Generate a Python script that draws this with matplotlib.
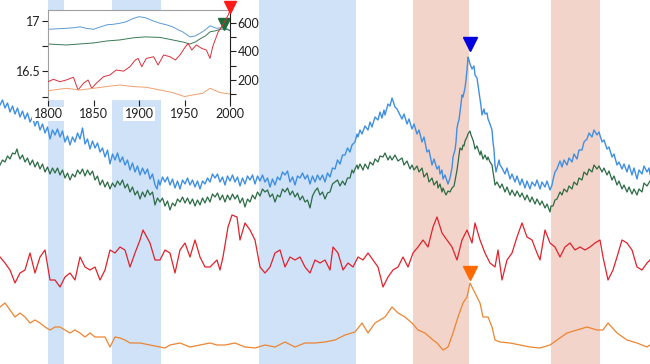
import matplotlib
matplotlib.use("Agg")
import matplotlib.pyplot as plt
from matplotlib.ticker import FixedLocator

plt.rcParams['font.family'] = ['Lato', 'DejaVu Sans']

# ---------------- main panel data: (time index, level); level axis points down -------------
blue_pts = [(0,105),(2.5,100),(5,108),(7.5,103),(10,112),(12.5,106),(15,114),(17.5,108),(20,117),(22.5,111),
 (25,119),(27.5,113),(30,122),(32.5,117),(35,126),(37.5,120),(40,130),(42.5,124),(45,133),(47.5,127),
 (50,139),(52.5,130),(55,135),(57.5,129),(60,137),(62.5,131),(65,142),(67.5,136),(70,145),(72.5,137),
 (75,142),(77.5,133),(80,139),(82.5,128),(85,144),(87.5,139),(90,149),(92.5,141),(95,148),(97.5,143),
 (100,152),(102.5,148),(105,157),(107.5,150),(110,164),(112.5,154),(115,160),(117.5,153),(120,162),(122.5,157),
 (125,165),(127.5,160),(130,170),(132.5,163),(135,172),(137.5,166),(140,175),(142.5,168),(145,174),(147.5,169),
 (150,179),(152.5,174),(155,185),(157,189),(158.5,180),(160,185),(162.5,177),(165,182),(167.5,177),(170,185),
 (172.5,179),(175,188),(177.5,181),(180,189),(182.5,180),(185,184),(187.5,178),(190,185),(192.5,180),(195,187),
 (197.5,181),(200,189),(202.5,181),(205,184),(207.5,178),(210,182),(212.5,174),(215,178),(217.5,174),(220,182),
 (222.5,177),(225,185),(227.5,176),(230,181),(232.5,175),(235,182),(237.5,177),(240,186),(242.5,178),(245,184),
 (247.5,176),(250,180),(252.5,175),(255,184),(257.5,176),(260,181),(262.5,175),(265,182),(267.5,178),(270,187),
 (272.5,179),(275,185),(277.5,177),(280,180),(282.5,172),(285,175),(287.5,171),(290,182),(292.5,177),(295,185),
 (297.5,176),(300,178),(302.5,173),(305,179),(307.5,175),(310,184),(312.5,176),(315,182),(317.5,175),(320,180),
 (322.5,175),(325,182),(327.5,173),(330,177),(332.5,168),(335,169),(337.5,160),(340,164),(342.5,155),(345,155),
 (347.5,148),(350,152),(352,145),(355,142),(357,134),(358,137),(360,130),(362,134),(365,126),(368,130),
 (370,122),(372,127),(375,117),(378,120),(380,112),(382,118),(384,110),(385,115),(388,104),(390,106),
 (392,98),(394,104),(395,107),(397,109),(400,115),(402,119),(404,114),(407,124),(409,119),(412,129),
 (414,124),(417,134),(419,130),(422,142),(424,137),(427,152),(429,150),(432,165),(434,159),(437,169),
 (439,166),(440,174),(442,170),(443,179),(445,175),(448,184),(450,178),(452,168),(453,157),(455,150),
 (456,142),(457,128),(458,123),(459,120),(460,112),(461,104),(462,95),(463,97),(465,88),(466,80),
 (467,70),(468,57),(469,60),(470,64),(472,69),(474,66),(475,75),(477,78),(478,85),(480,99),
 (481,106),(482,115),(484,109),(485,114),(487,113),(488,119),(490,124),(492,130),(493,142),(494,150),
 (495,165),(496,172),(497,168),(499,160),(500,165),(502,168),(505,174),(507,168),(510,179),(512,174),
 (515,182),(517,176),(520,185),(522,179),(525,188),(527,181),(530,189),(532,182),(535,186),(537,180),
 (540,189),(542,182),(545,187),(547,181),(550,190),(552,185),(553,180),(555,172),(557,169),(560,161),
 (562,167),(564,160),(567,165),(569,158),(572,162),(574,154),(577,159),(579,150),(582,150),(584,142),
 (587,139),(589,133),(592,137),(594,130),(597,135),(599,132),(602,142),(604,140),(607,149),(609,147),
 (612,157),(614,154),(617,165),(619,162),(622,169),(624,164),(627,172),(629,165),(632,175),(634,168),
 (637,179),(639,170),(642,174),(644,166),(647,172),(649,168),(650,174)]

green_pts = [(0,165),(2.5,160),(5,162),(7.5,156),(10,159),(12.5,153),(15,154),(17,149),(18.5,155),(20,159),
 (22.5,155),(25,162),(27.5,158),(30,165),(32.5,160),(35,167),(37.5,162),(40,169),(42.5,164),(45,172),
 (47.5,167),(50,174),(52.5,168),(55,173),(57.5,168),(60,175),(62.5,170),(65,178),(67.5,173),(70,180),
 (72.5,174),(75,177),(77.5,170),(80,174),(82.5,169),(85,176),(87.5,170),(90,175),(92.5,171),(95,180),
 (97.5,176),(100,185),(102.5,180),(105,187),(107.5,182),(110,189),(112.5,183),(115,187),(117.5,181),(120,185),
 (122.5,180),(125,188),(127.5,184),(130,192),(132.5,187),(135,195),(137.5,191),(140,199),(142.5,192),(145,197),
 (147.5,190),(150,195),(152.5,192),(155,205),(157.5,198),(160,202),(162.5,198),(165,206),(167.5,201),(170,210),
 (172.5,203),(175,206),(177.5,199),(180,202),(182.5,197),(185,203),(187.5,198),(190,204),(192.5,199),(195,206),
 (197.5,200),(200,205),(202.5,198),(205,203),(207.5,197),(210,202),(212.5,194),(215,197),(217.5,193),(220,200),
 (222.5,195),(225,202),(227.5,195),(230,200),(232.5,194),(235,199),(237.5,195),(240,203),(242.5,198),(245,207),
 (247.5,199),(250,202),(252.5,195),(255,199),(257.5,192),(260,196),(262.5,189),(265,192),(267.5,190),(270,197),
 (272.5,194),(275,202),(277.5,195),(280,197),(282.5,189),(285,192),(287.5,188),(290,195),(292.5,191),(295,197),
 (297.5,193),(300,200),(302.5,196),(305,202),(307.5,200),(310,208),(312.5,196),(315,191),(317.5,188),(320,195),
 (322.5,192),(325,199),(327.5,193),(330,192),(332.5,184),(335,182),(337.5,180),(340,186),(342.5,181),(345,185),
 (347.5,178),(350,178),(352,170),(353.5,173),(355,169),(357,165),(358,169),(360,164),(363,170),(365,164),
 (368,169),(370,162),(373,165),(375,159),(378,162),(380,156),(383,157),(385,153),(388,160),(390,156),
 (392,160),(395,155),(398,161),(402,158),(404,165),(407,161),(410,169),(412,165),(414,170),(417,166),
 (419,172),(422,168),(424,177),(427,173),(429,182),(432,178),(434,185),(437,181),(438,188),(440,184),
 (442,192),(443,188),(446,195),(448,191),(450,192),(452,188),(454,186),(455,181),(457,170),(458,163),
 (459,155),(460,148),(462,150),(463,145),(464,146),(465,141),(467,137),(468,134),(470,131),(471,135),
 (473,140),(474,144),(475,149),(477,146),(480,155),(481,151),(483,159),(485,155),(487,160),(488,157),
 (490,162),(492,165),(493,172),(494,178),(495,185),(497,182),(500,188),(502,184),(505,192),(507,187),
 (510,195),(512,190),(515,196),(517,191),(520,197),(522,193),(525,200),(527,195),(530,202),(532,197),
 (535,204),(537,199),(540,205),(542,201),(545,208),(547,204),(550,212),(551,206),(553,206),(555,200),
 (557,199),(560,192),(562,195),(564,189),(567,192),(569,186),(572,189),(574,182),(577,185),(579,178),
 (582,180),(584,172),(587,175),(589,169),(592,172),(594,165),(597,169),(599,166),(602,172),(604,168),
 (607,175),(609,171),(612,180),(614,176),(617,185),(619,181),(622,189),(624,185),(627,192),(629,187),
 (632,194),(634,189),(637,195),(639,189),(642,192),(644,183),(647,186),(650,181)]

red_t = [0,5,10,15,20,25,30,35,40,45,50,55,60,65,70,75,80,85,90,95,100,105,110,115,120,125,130,135,140,143,150,155,160,165,170,175,180,185,190,195,200,205,210,217,220,223,228,232,237,240,245,250,255,260,265,270,275,280,285,290,295,300,305,310,315,320,325,330,333,338,343,348,353,358,363,368,373,378,383,388,393,398,403,408,413,418,423,428,433,437,442,447,452,457,462,467,472,475,480,485,490,495,498,502,507,512,517,522,527,532,537,540,545,550,555,560,565,570,575,580,585,590,595,600,603,608,613,617,622,627,632,637,642,647,650]
red_v = [257,263,270,283,273,270,253,273,257,250,280,280,287,277,273,280,257,267,270,267,280,270,250,253,247,250,267,253,240,230,243,260,260,250,253,273,250,243,257,240,257,267,267,260,270,257,227,215,217,240,223,230,240,267,273,267,253,250,267,257,260,257,267,273,260,263,260,270,247,253,270,263,267,257,260,253,260,267,287,277,270,267,257,267,253,247,240,247,227,217,233,240,247,260,240,230,243,223,240,253,263,267,250,280,260,253,237,223,237,240,253,260,230,243,247,257,247,243,250,247,250,247,243,240,257,280,270,257,240,243,250,267,270,263,260]

orange_t = [0,5,10,15,20,25,30,35,40,45,50,55,60,65,70,75,80,85,90,95,100,105,110,115,120,125,130,140,150,160,165,170,180,190,200,210,217,225,235,245,255,265,275,285,295,305,315,325,335,345,355,362,368,375,385,392,398,405,412,418,425,433,437,443,448,453,458,463,467,470,475,480,483,488,492,495,500,510,520,530,540,550,557,567,577,587,597,603,608,617,627,637,647,650]
orange_v = [307,303,310,317,313,317,323,320,323,327,330,327,327,330,333,330,333,337,333,337,337,337,347,337,338,340,343,343,345,347,348,345,343,347,345,343,345,345,343,347,348,345,347,342,347,343,343,342,340,335,332,323,333,323,317,307,313,317,323,330,333,340,343,350,347,333,317,303,297,283,293,303,317,317,327,340,342,343,345,347,348,345,340,333,330,327,330,330,323,333,340,343,347,345]

blue_band_spans = [(48, 64), (112, 161), (259, 356)]
red_band_spans = [(413, 469), (551, 600)]
blue_peak = (470, 44)
orange_peak = (470, 273)

# ---------------- inset data (years) ----------------
in_blue_yr = [1800,1810,1820,1828,1835,1842,1850,1858,1865,1872,1879,1886,1893,1900,1907,1915,1923,1930,1937,1943,1948,1956,1962,1967,1973,1978,1985,1990,1996,2000]
in_blue_v = [16.915,16.92,16.925,16.93,16.94,16.925,16.915,16.94,16.96,16.965,16.975,16.99,17.02,17.04,17.03,17.0,16.975,16.96,16.94,16.91,16.89,16.84,16.85,16.875,16.91,16.95,16.925,16.93,16.925,16.9]
in_green_yr = [1800,1810,1820,1835,1850,1865,1879,1893,1907,1923,1937,1948,1956,1962,1967,1973,1978,1984,1989,1994,2000]
in_green_v = [16.77,16.765,16.76,16.77,16.78,16.8,16.81,16.83,16.84,16.835,16.81,16.79,16.77,16.79,16.82,16.85,16.89,16.9,16.915,16.92,16.905]
in_red_yr = [1800,1806,1813,1820,1828,1833,1839,1844,1848,1853,1861,1868,1875,1883,1890,1896,1899,1903,1908,1916,1921,1927,1934,1940,1945,1951,1954,1958,1963,1969,1974,1978,1981,1987,1992,1998,2000]
in_red_v = [188,205,188,200,219,130,177,200,142,177,223,235,270,262,293,340,351,293,351,363,305,375,363,340,375,433,456,410,445,421,410,351,433,537,584,654,690]
in_orange_yr = [1800,1820,1835,1850,1864,1879,1893,1908,1923,1937,1950,1959,1970,1978,1989,2000]
in_orange_v = [125,142,130,142,154,165,154,149,130,112,84,95,107,142,112,102]
in_green_peak = (1993, 16.968)
in_red_peak = (2000, 712)

left_major = [16.5, 17.0]
left_minor = [16.25, 16.75]
right_major = [200, 400, 600]
right_minor = [100, 300, 500]
x_ticks = [1800, 1850, 1900, 1950, 2000]

blue_t = [p[0] for p in blue_pts]
blue_v = [p[1] for p in blue_pts]
green_t = [p[0] for p in green_pts]
green_v = [p[1] for p in green_pts]

fig = plt.figure(figsize=(6.5, 3.64), dpi=100)
ax = fig.add_axes([0, 0, 1, 1])
ax.set_xlim(0, 650)
ax.set_ylim(364, 0)
ax.axis('off')

for a, b in blue_band_spans:
    ax.axvspan(a, b, color='#cfe2f8', lw=0, zorder=0)
for a, b in red_band_spans:
    ax.axvspan(a, b, color='#f3d4ca', lw=0, zorder=0)

ax.plot(blue_t, blue_v, color='#3f8fe3', lw=1.0, zorder=2)
ax.plot(green_t, green_v, color='#2d6b45', lw=0.9, zorder=2)
ax.plot(red_t, red_v, color='#e0222c', lw=0.9, zorder=2)
ax.plot(orange_t, orange_v, color='#ec8532', lw=0.9, zorder=2)
ax.plot([blue_peak[0]], [blue_peak[1]], marker='v', color='#0000e0', ms=10, ls='none', zorder=3)
ax.plot([orange_peak[0]], [orange_peak[1]], marker='v', color='#ff6a00', ms=10, ls='none', zorder=3)

# ---------------- inset ----------------
ins = fig.add_axes([48/650, 1-100/364, 182/650, 90/364])
ins.set_facecolor('white')
ins.set_xlim(1800, 2000)
ins.set_ylim(16.216, 17.106)
ins2 = ins.twinx()
ins2.set_ylim(60, 690)

ins.plot(in_blue_yr, in_blue_v, color='#5b9bd5', lw=0.7)
ins.plot(in_green_yr, in_green_v, color='#3b7a55', lw=0.7)
ins2.plot(in_red_yr, in_red_v, color='#d8303a', lw=0.7)
ins2.plot(in_orange_yr, in_orange_v, color='#f0a070', lw=0.7)
ins.plot([in_green_peak[0]], [in_green_peak[1]], marker='v', color='#1f6b3a', ms=8, ls='none', clip_on=False)
ins2.plot([in_red_peak[0]], [in_red_peak[1]], marker='v', color='#ff1a1a', ms=8, ls='none', clip_on=False, zorder=5)

ins.set_xticks(x_ticks)
ins.yaxis.set_major_locator(FixedLocator(left_major))
ins.yaxis.set_minor_locator(FixedLocator(left_minor))
ins.set_yticklabels(['16.5', '17'])
ins2.yaxis.set_major_locator(FixedLocator(right_major))
ins2.yaxis.set_minor_locator(FixedLocator(right_minor))
ins2.set_yticklabels(['200', '400', '600'])

for s in ['top', 'left']:
    ins.spines[s].set_color('#a0a0a0')
ins.spines['bottom'].set_visible(False)
ins.spines['right'].set_visible(False)
for s in ['top', 'left', 'bottom']:
    ins2.spines[s].set_visible(False)
ins2.spines['right'].set_color('#202020')

ins.tick_params(axis='both', which='both', length=4, width=0.8, labelsize=9, colors='#202020', pad=1.5)
ins2.tick_params(axis='y', which='both', length=4, width=0.8, labelsize=9, colors='#202020', pad=1.5)
for lbl in ins.get_xticklabels():
    lbl.set_bbox(dict(facecolor='white', edgecolor='none', pad=0.8))

fig.savefig('out.png', dpi=100)
